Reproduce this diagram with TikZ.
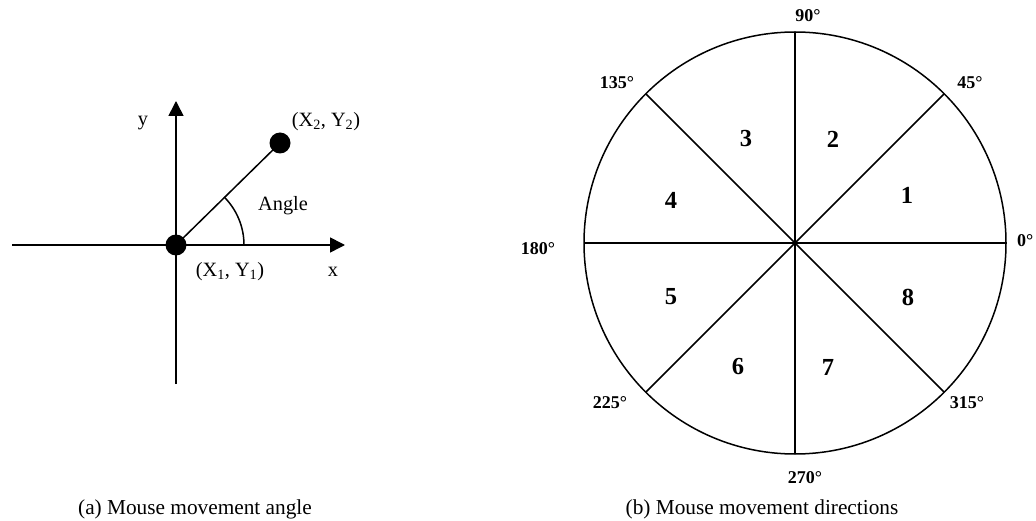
\documentclass[tikz,border=0pt]{standalone}
\usepackage{fontspec}
\setmainfont{Liberation Serif}
\usetikzlibrary{arrows.meta}
\begin{document}
\begin{tikzpicture}[x=1pt,y=-1pt,
  ax/.style={line width=1.6pt,-{Triangle[length=15pt,width=15pt]}},
  ln/.style={line width=1.5pt},
  dot/.style={circle,fill=black,inner sep=0pt,outer sep=0pt,minimum size=21pt},
  lbl/.style={font=\fontsize{20.3}{24}\selectfont,inner sep=0pt},
  deg/.style={font=\fontsize{18}{21}\selectfont\bfseries,inner sep=0pt},
  num/.style={font=\fontsize{24.5}{28}\selectfont\bfseries,inner sep=0pt},
  captxt/.style={font=\fontsize{21.3}{25}\selectfont,inner sep=0pt}]
\useasboundingbox (0,0) rectangle (1036,521);
% ---- (a) ----
\coordinate (xl) at (12,245);
\coordinate (xr) at (345,245);
\coordinate (yb) at (176,384);
\coordinate (yt) at (176,101);
\coordinate (arcs) at (244,245);
\draw[ax] (xl) -- (xr);
\draw[ax] (yb) -- (yt);
\node[dot] (p1) at (176,245) {};
\node[dot] (p2) at (280,143) {};
\draw[ln] (p1.center) -- (p2.center);
\draw[ln] (arcs) arc[start angle=0,end angle=-45,radius=68];
\node[lbl] (ly) at (143,123) {y};
\node[lbl] (lp2) at (326,122) {(X\textsubscript{2}, Y\textsubscript{2})};
\node[lbl] (lang) at (283,206) {Angle};
\node[lbl] (lp1) at (230,272) {(X\textsubscript{1}, Y\textsubscript{1})};
\node[lbl] (lx) at (333,272) {x};
\node[captxt] (capa) at (195,509) {(a) Mouse movement angle};
% ---- (b) ----
\node[circle,draw,line width=1.5pt,inner sep=0pt,outer sep=0pt,minimum size=422pt] (circ) at (795,243) {};
\draw[ln] (circ.0) -- (circ.180);
\draw[ln] (circ.45) -- (circ.225);
\draw[ln] (circ.90) -- (circ.270);
\draw[ln] (circ.135) -- (circ.315);
\node[deg,anchor=west] (d0) at (1017,241) {0°};
\node[deg] (d45) at (970,83) {45°};
\node[deg] (d90) at (808,16) {90°};
\node[deg] (d135) at (617,83) {135°};
\node[deg] (d180) at (538,249) {180°};
\node[deg] (d225) at (610,403) {225°};
\node[deg] (d270) at (805,478) {270°};
\node[deg] (d315) at (967,403) {315°};
\node[num] (n1) at (907,195) {1};
\node[num] (n2) at (833,139) {2};
\node[num] (n3) at (746,139) {3};
\node[num] (n4) at (671,200) {4};
\node[num] (n5) at (671,297) {5};
\node[num] (n6) at (738,367) {6};
\node[num] (n7) at (828,367) {7};
\node[num] (n8) at (908,297) {8};
\node[captxt] (capb) at (762,509) {(b) Mouse movement directions};
\end{tikzpicture}
\end{document}
